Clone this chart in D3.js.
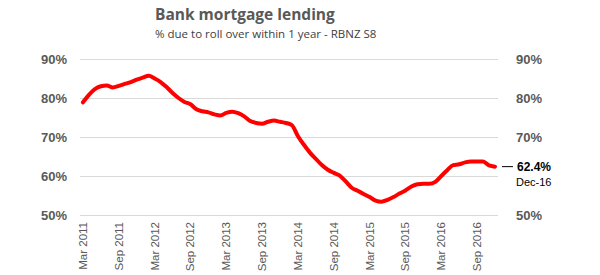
<!DOCTYPE html>
<html>
<head>
<meta charset="utf-8">
<script src="https://cdn.jsdelivr.net/npm/d3@7"></script>
<style>
  body { margin: 0; background: #fff; }
  svg { display: block; }
</style>
</head>
<body>
<div class="chart"></div>
<script>
// data: % of bank mortgage lending due to roll over within 1 year (monthly, Mar 2011 - Dec 2016)
const firstMonth = new Date(2011, 2, 1);
const values = [
  78.9, 80.8, 82.3, 83.0, 83.2, 82.7, 83.1, 83.6, 84.1, 84.7, 85.2, 85.7,
  85.0, 84.1, 82.8, 81.3, 80.0, 79.0, 78.4, 77.1, 76.6, 76.3, 75.8, 75.5,
  76.2, 76.5, 76.1, 75.3, 74.1, 73.6, 73.4, 73.9, 74.2, 73.9, 73.6, 73.0,
  70.2, 68.0, 66.0, 64.4, 62.8, 61.6, 60.8, 60.1, 58.6, 57.0, 56.2, 55.4,
  54.6, 53.7, 53.4, 53.9, 54.6, 55.5, 56.3, 57.3, 57.9, 58.0, 58.0, 58.5,
  60.0, 61.5, 62.8, 63.0, 63.5, 63.7, 63.7, 63.7, 62.7, 62.4
];
const months = d3.timeMonth.range(firstMonth, d3.timeMonth.offset(firstMonth, values.length));
const yTicks = [50, 60, 70, 80, 90];
const yTicksRight = [50, 70, 80, 90];
const lastLabel = '62.4%';
const lastDate = 'Dec-16';

const width = 600, height = 275;
const margin = { top: 59, right: 102, bottom: 60, left: 80 };

const svg = d3.select('.chart')
  .append('svg')
  .attr('width', width)
  .attr('height', height);

// 标题
svg.append('text')
  .attr('x', 155)
  .attr('y', 20)
  .attr('font-family', 'Open Sans')
  .attr('font-weight', 'bold')
  .attr('font-size', 15.5)
  .attr('fill', '#595959')
  .text('Bank mortgage lending');

svg.append('text')
  .attr('x', 155)
  .attr('y', 38)
  .attr('font-family', 'Open Sans')
  .attr('font-size', 11.5)
  .attr('fill', '#404040')
  .text('% due to roll over within 1 year - RBNZ S8');

const x = d3.scaleBand()
  .domain(months)
  .range([margin.left, width - margin.right]);

const y = d3.scaleLinear()
  .domain([50, 90])
  .range([height - margin.bottom, margin.top]);

// 网格线
svg.append('g')
  .selectAll('line')
  .data(yTicks)
  .enter()
  .append('line')
  .attr('x1', margin.left)
  .attr('x2', width - margin.right)
  .attr('y1', d => Math.round(y(d)) + 0.5)
  .attr('y2', d => Math.round(y(d)) + 0.5)
  .attr('stroke', '#d9d9d9')
  .attr('stroke-width', 1);

const fmt = d => d + '%';

// 左右纵轴（右轴 60% 让位给末值标注）
const yLeft = svg.append('g')
  .attr('transform', `translate(${margin.left - 13},0)`)
  .call(d3.axisLeft(y).tickValues(yTicks).tickFormat(fmt).tickSize(0).tickPadding(0));
const yRight = svg.append('g')
  .attr('transform', `translate(${width - margin.right + 18},0)`)
  .call(d3.axisRight(y).tickValues(yTicksRight).tickFormat(fmt).tickSize(0).tickPadding(0));

[yLeft, yRight].forEach(g => {
  g.select('.domain').remove();
  g.selectAll('text')
    .attr('font-family', 'Liberation Sans')
    .attr('font-weight', 'bold')
    .attr('font-size', 13)
    .attr('fill', '#595959');
});

// 横轴
const fmtMonth = d3.timeFormat('%b %Y');
const xAxis = svg.append('g')
  .attr('transform', `translate(0,${height - margin.bottom})`)
  .call(d3.axisBottom(x)
    .tickValues(months.filter((d, i) => i % 6 === 0))
    .tickFormat(fmtMonth)
    .tickSize(0)
    .tickPadding(0));
xAxis.select('.domain').remove();
xAxis.selectAll('text')
  .attr('font-family', 'Liberation Sans')
  .attr('font-size', 11.5)
  .attr('fill', '#595959')
  .attr('text-anchor', 'end')
  .attr('dy', null)
  .attr('y', 0)
  .attr('transform', 'translate(4,7) rotate(-90)');

// 折线
const line = d3.line()
  .x((d, i) => x(months[i]) + x.bandwidth() / 2)
  .y(d => y(d))
  .curve(d3.curveMonotoneX);

svg.append('path')
  .datum(values)
  .attr('d', line)
  .attr('fill', 'none')
  .attr('stroke', '#ff0000')
  .attr('stroke-width', 4)
  .attr('stroke-linejoin', 'round')
  .attr('stroke-linecap', 'round');

// 末值标注
const lastY = y(values[values.length - 1]);
svg.append('line')
  .attr('x1', width - margin.right + 4)
  .attr('x2', width - margin.right + 15)
  .attr('y1', lastY)
  .attr('y2', lastY)
  .attr('stroke', '#000')
  .attr('stroke-width', 1);

svg.append('text')
  .attr('x', width - margin.right + 19)
  .attr('y', lastY + 4.5)
  .attr('font-family', 'Liberation Sans')
  .attr('font-weight', 'bold')
  .attr('font-size', 12)
  .attr('fill', '#000')
  .text(lastLabel);

svg.append('text')
  .attr('x', width - margin.right + 18)
  .attr('y', lastY + 19)
  .attr('font-family', 'Liberation Sans')
  .attr('font-size', 11)
  .attr('fill', '#000')
  .text(lastDate);
</script>
</body>
</html>
